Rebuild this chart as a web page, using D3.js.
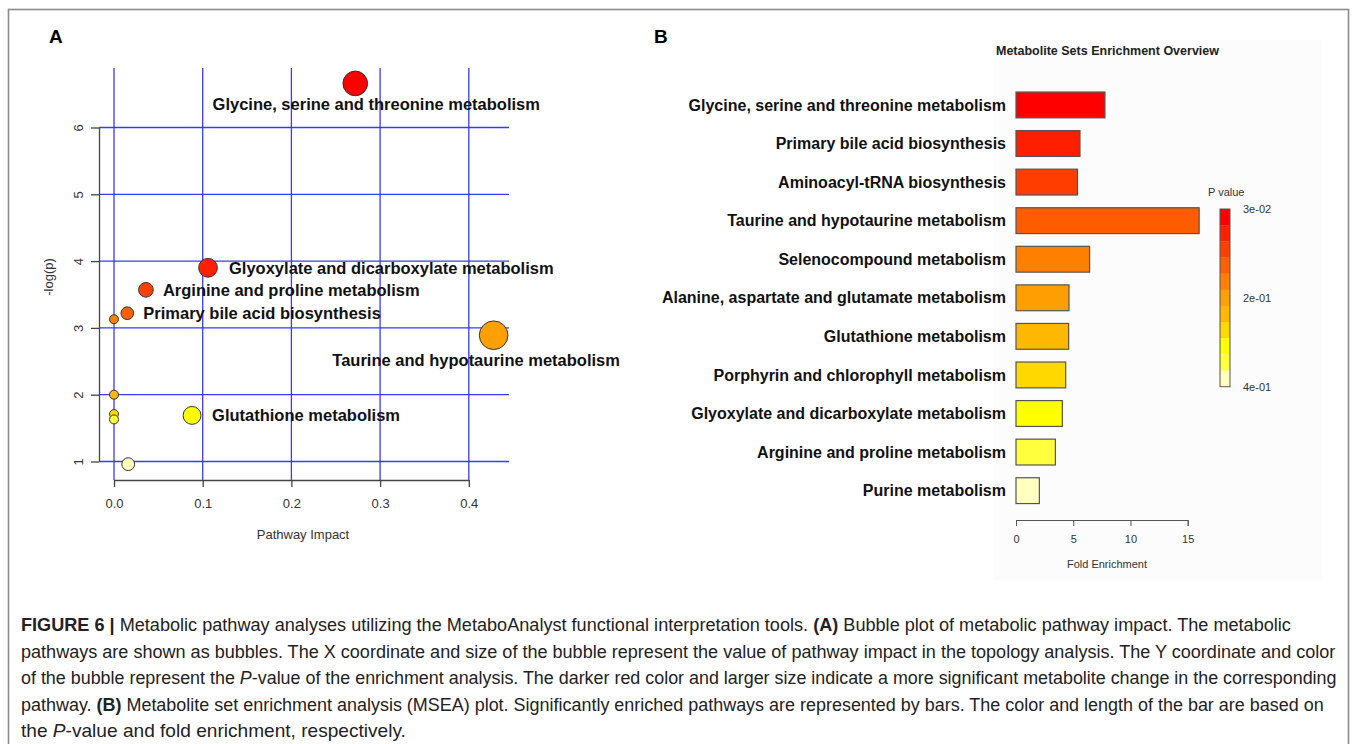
<!DOCTYPE html>
<html>
<head>
<meta charset="utf-8">
<script src="https://cdn.jsdelivr.net/npm/d3@7"></script>
<style>
  html, body { margin: 0; padding: 0; background: #fff; }
  svg { display: block; }
  text { font-family: "Liberation Sans", Arial, Helvetica, sans-serif; }
</style>
</head>
<body>
<svg id="fig" width="1357" height="744"></svg>
<script>
// ---------- Panel A: pathway impact bubble plot ----------
const bubbleLabels = [
  "Glycine, serine and threonine metabolism",
  "Glyoxylate and dicarboxylate metabolism",
  "Arginine and proline metabolism",
  "Primary bile acid biosynthesis",
  "",
  "Taurine and hypotaurine metabolism",
  "",
  "",
  "Glutathione metabolism",
  "",
  ""
];
const bubbleImpact  = [0.272, 0.106, 0.036, 0.015, 0.0, 0.428, 0.0, 0.0, 0.088, 0.0, 0.016];
const bubbleNegLogP = [6.66, 3.90, 3.57, 3.22, 3.13, 2.89, 2.00, 1.71, 1.69, 1.63, 0.96];
const impactTicks = [0.0, 0.1, 0.2, 0.3, 0.4];
const negLogPTicks = [1, 2, 3, 4, 5, 6];

// ---------- Panel B: metabolite set enrichment overview ----------
const setNames = [
  "Glycine, serine and threonine metabolism",
  "Primary bile acid biosynthesis",
  "Aminoacyl-tRNA biosynthesis",
  "Taurine and hypotaurine metabolism",
  "Selenocompound metabolism",
  "Alanine, aspartate and glutamate metabolism",
  "Glutathione metabolism",
  "Porphyrin and chlorophyll metabolism",
  "Glyoxylate and dicarboxylate metabolism",
  "Arginine and proline metabolism",
  "Purine metabolism"
];
const foldEnrichment = [7.77, 5.59, 5.37, 16.0, 6.43, 4.63, 4.60, 4.34, 4.05, 3.44, 2.04];
const setPValues = [0.030, 0.063, 0.095, 0.128, 0.165, 0.198, 0.234, 0.268, 0.302, 0.335, 0.370];
const foldTicks = [0, 5, 10, 15];
const legendTickLabels = ["3e-02", "2e-01", "4e-01"];

// heat palette, most significant first
const heatStops = ["#ff0000", "#ff2000", "#ff4000", "#ff6000", "#ff8000", "#ffa000",
                   "#ffb800", "#ffd800", "#ffff00", "#ffff40", "#ffffc0"];

const captionLines = [
  [{t: "FIGURE 6 | ", b: true}, {t: "Metabolic pathway analyses utilizing the MetaboAnalyst functional interpretation tools. "}, {t: "(A)", b: true}, {t: " Bubble plot of metabolic pathway impact. The metabolic"}],
  [{t: "pathways are shown as bubbles. The X coordinate and size of the bubble represent the value of pathway impact in the topology analysis. The Y coordinate and color"}],
  [{t: "of the bubble represent the "}, {t: "P", i: true}, {t: "-value of the enrichment analysis. The darker red color and larger size indicate a more significant metabolite change in the corresponding"}],
  [{t: "pathway. "}, {t: "(B)", b: true}, {t: " Metabolite set enrichment analysis (MSEA) plot. Significantly enriched pathways are represented by bars. The color and length of the bar are based on"}],
  [{t: "the "}, {t: "P", i: true}, {t: "-value and fold enrichment, respectively."}]
];
const captionWidths = [1271, 1316, 1317, 1304, 385];

const svg = d3.select("#fig");

// outer frame
svg.append("rect").attr("x", 8.5).attr("y", 9.5).attr("width", 1340).attr("height", 760)
  .attr("fill", "none").attr("stroke", "#8a8a8a").attr("stroke-width", 1.6);

// panel letters
svg.append("text").attr("x", 49).attr("y", 43).attr("font-size", 19).attr("font-weight", "bold").text("A");
svg.append("text").attr("x", 654).attr("y", 43).attr("font-size", 19).attr("font-weight", "bold").text("B");

// ===== Panel A =====
const gA = svg.append("g");
const xA = d3.scaleLinear().domain([0, 0.4]).range([114, 468.8]);
const yA = d3.scaleLinear().domain([1, 6]).range([461.5, 127.5]);
const plotA = {left: 99, right: 509, top: 68, bottom: 480};

const grid = gA.append("g").attr("stroke", "#3a3aff").attr("stroke-width", 1.3);
grid.selectAll("line.v").data(impactTicks).join("line").attr("class", "v")
  .attr("x1", d => xA(d)).attr("x2", d => xA(d))
  .attr("y1", plotA.top).attr("y2", plotA.bottom);
grid.selectAll("line.h").data(negLogPTicks).join("line").attr("class", "h")
  .attr("y1", d => yA(d)).attr("y2", d => yA(d))
  .attr("x1", plotA.left).attr("x2", plotA.right);

const yAxisA = gA.append("g").attr("transform", `translate(${plotA.left},0)`)
  .call(d3.axisLeft(yA).tickValues(negLogPTicks).tickSize(8).tickSizeOuter(0).tickFormat(d3.format("d")));
yAxisA.selectAll("text").attr("transform", "rotate(-90)").attr("x", 0).attr("y", -16)
  .attr("dy", 0).attr("text-anchor", "middle");

const xAxisA = gA.append("g").attr("transform", `translate(0,${plotA.bottom})`)
  .call(d3.axisBottom(xA).tickValues(impactTicks).tickSize(7).tickSizeOuter(0).tickPadding(12).tickFormat(d3.format(".1f")));

[yAxisA, xAxisA].forEach(ax => {
  ax.attr("font-family", null).attr("font-size", 13);
  ax.selectAll("path, line").attr("stroke", "#444").attr("stroke-width", 1.3);
  ax.selectAll("text").attr("fill", "#333");
});

gA.append("text").attr("x", 303).attr("y", 539).attr("text-anchor", "middle")
  .attr("font-size", 13).attr("fill", "#333").text("Pathway Impact");
gA.append("text").attr("transform", "translate(52.5,277) rotate(-90)").attr("text-anchor", "middle")
  .attr("font-size", 13).attr("fill", "#333").text("-log(p)");

// bubbles: size from impact, colour from rank of significance
const bubbles = bubbleLabels.map((label, i) => ({label, impact: bubbleImpact[i], nlp: bubbleNegLogP[i]}));
const rankOrder = bubbles.slice().sort((a, b) => b.nlp - a.nlp);
const heatByRank = d3.scaleLinear().domain(d3.range(heatStops.length)).range(heatStops);
const rScale = d3.scaleSqrt().domain([0, 1]).range([0, 15]);
const radius = d => 4.5 + rScale(d.impact);

gA.append("g").selectAll("circle").data(bubbles).join("circle")
  .attr("cx", d => xA(d.impact)).attr("cy", d => yA(d.nlp)).attr("r", radius)
  .attr("fill", d => heatByRank(rankOrder.indexOf(d) * (heatStops.length - 1) / (bubbles.length - 1)))
  .attr("stroke", "#333").attr("stroke-width", 1);

// label placement next to each bubble
const labelPlacement = {
  "Glycine, serine and threonine metabolism": {anchor: "middle", dx: 21, dy: 21},
  "Glyoxylate and dicarboxylate metabolism": {anchor: "start", dx: 21, dy: 0},
  "Arginine and proline metabolism": {anchor: "start", dx: 17, dy: 0},
  "Primary bile acid biosynthesis": {anchor: "start", dx: 16, dy: 0},
  "Taurine and hypotaurine metabolism": {anchor: "middle", dx: -17.5, dy: 25},
  "Glutathione metabolism": {anchor: "start", dx: 20, dy: 0}
};
gA.append("g").selectAll("text").data(bubbles.filter(d => d.label)).join("text")
  .attr("x", d => xA(d.impact) + labelPlacement[d.label].dx)
  .attr("y", d => yA(d.nlp) + labelPlacement[d.label].dy)
  .attr("dy", "0.35em")
  .attr("text-anchor", d => labelPlacement[d.label].anchor)
  .attr("font-size", 16.5).attr("font-weight", "bold").attr("fill", "#111")
  .text(d => d.label);

// ===== Panel B =====
const gB = svg.append("g");
gB.append("rect").attr("x", 993).attr("y", 40).attr("width", 329).attr("height", 540).attr("fill", "#fcfcfc");
gB.append("text").attr("x", 1107.5).attr("y", 55).attr("text-anchor", "middle")
  .attr("font-size", 12.5).attr("font-weight", "bold").attr("fill", "#222")
  .text("Metabolite Sets Enrichment Overview");

const xB = d3.scaleLinear().domain([0, 15]).range([1016, 1187.7]);
const yB = d3.scaleBand().domain(setNames).range([79.3, 516.3]).padding(0.33);
const pMin = d3.min(setPValues), pMax = d3.max(setPValues);
const heatByP = d3.scaleLinear()
  .domain(d3.quantize(d3.interpolateNumber(pMin, pMax), heatStops.length)).range(heatStops);

const sets = setNames.map((name, i) => ({name, fold: foldEnrichment[i], p: setPValues[i]}));
gB.append("g").selectAll("rect").data(sets).join("rect")
  .attr("x", xB(0)).attr("y", d => yB(d.name))
  .attr("width", d => xB(d.fold) - xB(0)).attr("height", yB.bandwidth())
  .attr("fill", d => heatByP(d.p)).attr("stroke", "#555").attr("stroke-width", 1.2);

gB.append("g").selectAll("text").data(sets).join("text")
  .attr("x", 1006).attr("y", d => yB(d.name) + yB.bandwidth() / 2).attr("dy", "0.35em")
  .attr("text-anchor", "end").attr("font-size", 16).attr("font-weight", "bold").attr("fill", "#111")
  .text(d => d.name);

const xAxisB = gB.append("g").attr("transform", "translate(0,520)")
  .call(d3.axisBottom(xB).tickValues(foldTicks).tickSize(6).tickPadding(9));
xAxisB.attr("font-family", null).attr("font-size", 11);
xAxisB.selectAll("path, line").attr("stroke", "#555");
xAxisB.selectAll("text").attr("fill", "#333");
gB.append("text").attr("x", 1107).attr("y", 568).attr("text-anchor", "middle")
  .attr("font-size", 11).attr("fill", "#333").text("Fold Enrichment");

// colour key
const legendY = d3.scaleLinear().domain([pMin, pMax]).range([209, 386.7]);
const bandP = d3.quantize(d3.interpolateNumber(pMin, pMax), heatStops.length);
const bandH = (legendY(pMax) - legendY(pMin)) / bandP.length;
gB.append("g").selectAll("rect").data(bandP).join("rect")
  .attr("x", 1220).attr("width", 10)
  .attr("y", (d, i) => legendY(pMin) + i * bandH).attr("height", bandH + 0.3)
  .attr("fill", d => heatByP(d));
gB.append("rect").attr("x", 1220).attr("y", legendY(pMin)).attr("width", 10)
  .attr("height", legendY(pMax) - legendY(pMin)).attr("fill", "none").attr("stroke", "#555");
const legendTickP = [pMin, (pMin + pMax) / 2, pMax];
gB.append("g").selectAll("text").data(legendTickLabels).join("text")
  .attr("x", 1243).attr("y", (d, i) => legendY(legendTickP[i])).attr("dy", "0.35em")
  .attr("font-size", 11).attr("fill", "#333").text(d => d);
gB.append("text").attr("x", 1208).attr("y", 192).attr("dy", "0.35em")
  .attr("font-size", 11).attr("fill", "#333").text("P value");

// ===== Caption =====
// each line is set at its natural width, then squeezed horizontally to the column width
const cap = svg.append("g");
captionLines.forEach((parts, i) => {
  const t = cap.append("text").attr("x", 0).attr("y", 0)
    .attr("font-size", 18.5).attr("fill", "#222");
  parts.forEach(p => {
    t.append("tspan").attr("font-weight", p.b ? "bold" : null)
      .attr("font-style", p.i ? "italic" : null).text(p.t);
  });
  const natural = t.node().getComputedTextLength();
  const sx = captionWidths[i] / natural;
  t.attr("transform", `translate(21,${631 + i * 26.5}) scale(${sx},1)`);
});
</script>
</body>
</html>
